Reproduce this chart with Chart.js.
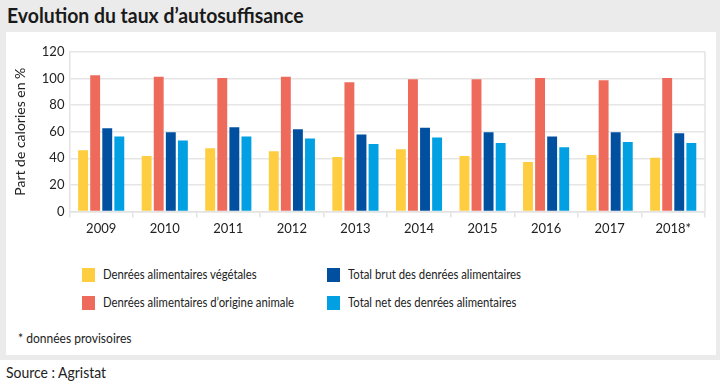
<!DOCTYPE html>
<html>
<head>
<meta charset="utf-8">
<script src="https://cdn.jsdelivr.net/npm/chart.js@4.4.1/dist/chart.umd.min.js"></script>
<style>
  html, body { margin:0; padding:0; width:720px; height:387px; background:#fff; overflow:hidden; font-family: Lato, "Noto Sans", sans-serif; color:#222; }
  #bg { position:absolute; left:0; top:0; width:720px; height:360px; background:#ebebeb; }
  #panel { position:absolute; left:6px; top:32px; width:710px; height:323px; background:#fff; }
  #title { position:absolute; left:7px; top:3px; font-size:20px; font-weight:bold; color:#1a1a1a; white-space:nowrap; transform:scaleX(0.97); transform-origin:left center; }
  #wrap { position:absolute; left:6px; top:32px; width:710px; height:209px; }
  .lg { position:absolute; font-size:14px; white-space:nowrap; color:#222; transform:scaleX(0.81); transform-origin:left center; }
  .sw { position:absolute; width:13px; height:14px; }
  #note { position:absolute; left:18px; top:329px; font-size:14px; transform:scaleX(0.86); transform-origin:left center; }
  #src { position:absolute; left:6px; top:363px; font-size:15px; transform:scaleX(0.93); transform-origin:left center; }
</style>
</head>
<body>
<div id="bg"></div>
<div id="panel"></div>
<div id="title">Evolution du taux d’autosuffisance</div>
<div id="wrap"><canvas id="c" width="710" height="209"></canvas></div>
<div id="legend"></div>
<div id="note">* données provisoires</div>
<div id="src">Source : Agristat</div>
<script>
const categories = ["2009","2010","2011","2012","2013","2014","2015","2016","2017","2018*"];
const vegetales = [46.0, 41.7, 47.5, 45.2, 40.9, 46.7, 41.7, 37.1, 42.4, 40.4];
const animales  = [102.5, 101.3, 100.5, 101.3, 97.2, 99.5, 99.5, 100.5, 98.7, 100.5];
const totalBrut = [62.6, 59.6, 63.4, 61.9, 57.8, 62.9, 59.6, 56.3, 59.6, 58.8];
const totalNet  = [56.3, 53.3, 56.3, 54.8, 50.8, 55.6, 51.5, 48.2, 52.3, 51.5];
const yTicks = [0, 20, 40, 60, 80, 100, 120];
const seriesNames = ["Denrées alimentaires végétales","Denrées alimentaires d’origine animale","Total brut des denrées alimentaires","Total net des denrées alimentaires"];
const colors = ["#ffcd40","#ee6b5c","#00509f","#00a0e3"];

// HTML legend (2 columns)
const lgPos = [[82,268],[82,296],[327,268],[327,296]];
const lg = document.getElementById('legend');
seriesNames.forEach((n,i)=>{
  const s = document.createElement('div'); s.className='sw';
  s.style.left = lgPos[i][0]+'px'; s.style.top = lgPos[i][1]+'px'; s.style.background = colors[i];
  lg.appendChild(s);
  const t = document.createElement('div'); t.className='lg'; t.textContent = n;
  t.style.left = (lgPos[i][0]+21)+'px'; t.style.top = (lgPos[i][1]-3)+'px';
  lg.appendChild(t);
});

const frame = {
  id:'frame',
  afterDraw(chart){
    const {ctx, chartArea:a} = chart;
    ctx.save();
    ctx.strokeStyle = '#e3e3e3'; ctx.lineWidth = 1.5;
    ctx.beginPath();
    ctx.moveTo(a.right, a.top); ctx.lineTo(a.right, a.bottom);
    ctx.stroke();
    ctx.restore();
  }
};

new Chart(document.getElementById('c'), {
  type:'bar',
  data:{
    labels: categories,
    datasets: [vegetales, animales, totalBrut, totalNet].map((d,i)=>({
      label: seriesNames[i], data: d, backgroundColor: colors[i],
      categoryPercentage: 0.76, barPercentage: 0.82
    }))
  },
  options:{
    responsive:false, animation:false,
    layout:{ padding:{ top:20, right:11, left:6, bottom:0 } },
    plugins:{ legend:{display:false}, tooltip:{enabled:false} },
    scales:{
      x:{
        grid:{ offset:true, drawOnChartArea:false, drawTicks:true, tickLength:6, color:'#e3e3e3', lineWidth:1.5 },
        border:{ color:'#e3e3e3', width:1.5 },
        ticks:{ color:'#222', font:{ family:'Lato', size:13 }, padding:4 }
      },
      y:{
        min:0, max:120,
        afterBuildTicks(axis){ axis.ticks = yTicks.map(v=>({value:v})); },
        grid:{ color:'#e6e6e6', lineWidth:1.5, drawTicks:false },
        border:{ color:'#e3e3e3', width:1.5 },
        ticks:{ color:'#222', font:{ family:'Lato', size:13 }, padding:5 },
        title:{ display:true, text:'Part de calories en %', color:'#222', font:{ family:'Lato', size:14 }, padding:{top:0,bottom:8} }
      }
    }
  },
  plugins:[frame]
});
</script>
</body>
</html>
